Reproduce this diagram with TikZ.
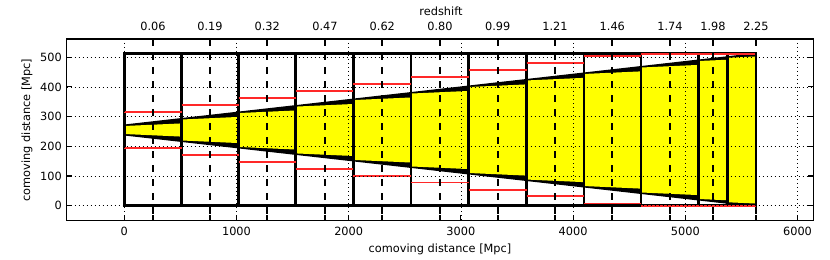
\documentclass[tikz,border=0pt]{standalone}
\usepackage{fontspec}
\setmainfont{DejaVu Sans}
\definecolor{mplred}{RGB}{255,40,40}
\definecolor{mplyellow}{RGB}{255,255,0}
\begin{document}
\begin{tikzpicture}[x=0.75pt,y=-0.75pt,
  font=\fontsize{8.5}{10}\selectfont,
  gridline/.style={black, line width=0.6pt, dash pattern=on 0.8pt off 2.2pt},
  zline/.style={black, line width=1.5pt, dash pattern=on 5.5pt off 5pt},
  binbox/.style={black, line width=2pt},
  redline/.style={mplred, line width=1.4pt},
  conefill/.style={fill=black},
  yfill/.style={fill=mplyellow},
  tickmark/.style={black, line width=0.8pt},
  frame/.style={black, line width=1pt}]
\useasboundingbox (0,0) rectangle (830,260);
\fill[white] (0,0) rectangle (830,260);

% light-cone segments per bin
\foreach \xl/\xr in {124.3/181.7,181.7/238.7,238.7/295.7,295.7/353.3,353.3/411,411/468.7,468.7/526.7,526.7/584,584/641,641/698.3,698.3/727.3,727.3/756}{
  \pgfmathsetmacro{\hl}{5+0.11319*(\xl-124.3)}
  \pgfmathsetmacro{\hr}{5+0.11319*(\xr-124.3)}
  \pgfmathsetmacro{\hy}{\hl+0.4*(\hr-\hl)}
  \fill[conefill] (\xl,{130-\hl-0.5}) -- (\xr,{130-\hr-0.5}) -- (\xr,{130+\hr+0.5}) -- (\xl,{130+\hl+0.5}) -- cycle;
  \fill[yfill] (\xl,{130-\hl+1.0}) -- (\xr,{130-\hy+1.0}) -- (\xr,{130+\hy-1.0}) -- (\xl,{130+\hl-1.0}) -- cycle;
}

% bin boxes
\foreach \xl/\xr in {124.3/181.7,181.7/238.7,238.7/295.7,295.7/353.3,353.3/411,411/468.7,468.7/526.7,526.7/584,584/641,641/698.3,698.3/727.3,727.3/756}{
  \draw[binbox] (\xl,53.5) rectangle (\xr,205.7);
}

% red lines
\foreach \xl/\xr/\ru/\rl in {124.3/181.7/111.7/148.3,181.7/238.7/105/155,238.7/295.7/97.7/162.3,295.7/353.3/90.7/169,353.3/411/83.7/176,411/468.7/77.3/182.5,468.7/526.7/70.3/189.7,526.7/584/63.3/196.3,584/641/55.7/203.5,641/698.3/54/205.7,698.3/727.3/54/205.7,727.3/756/54/205.7}{
  \draw[redline] (\xl,\ru) -- (\xr,\ru);
  \draw[redline] (\xl,\rl) -- (\xr,\rl);
}

% dotted grid
\foreach \x in {124.3,236.5,348.7,460.9,573.1,685.3,797.5}{
  \draw[gridline] (\x,39) -- (\x,220.7);
}
\foreach \y in {205.7,176,146.3,116.6,86.9,57.2}{
  \draw[gridline] (66.7,\y) -- (813.3,\y);
}

% dashed redshift lines and labels
\foreach \x/\z [count=\i] in {153/0.06,210/0.19,267.3/0.32,325/0.47,382.3/0.62,440/0.80,497.7/0.99,555/1.21,612.3/1.46,670/1.74,713/1.98,756/2.25}{
  \draw[zline] (\x,39) -- (\x,220.7);
  \draw[tickmark, line width=1.5pt] (\x,39) -- (\x,45);
  \draw[tickmark, line width=1.5pt] (\x,220.7) -- (\x,214.7);
  \node (z\i) at (\x,26.7) {\z};
}

% axes frame
\draw[frame] (66.7,39) rectangle (813.3,220.7);

% bottom ticks and labels
\foreach \x/\lab [count=\i] in {124.3/0,236.5/1000,348.7/2000,460.9/3000,573.1/4000,685.3/5000,797.5/6000}{
  \draw[tickmark] (\x,220.7) -- (\x,215.2);
  \node (xt\i) at (\x,231.7) {\lab};
}

% left/right ticks and labels
\foreach \y/\lab [count=\i] in {205.7/0,176/100,146.3/200,116.6/300,86.9/400,57.2/500}{
  \draw[tickmark] (66.7,\y) -- (72.2,\y);
  \draw[tickmark] (813.3,\y) -- (807.8,\y);
  \node[anchor=east, inner sep=0pt] (yt\i) at (62,\y) {\lab};
}

% axis titles
\node (xlabel) at (440,249.3) {comoving distance [Mpc]};
\node[rotate=90] (ylabel) at (27,130) {comoving distance [Mpc]};
\node (zlabel) at (441,11) {redshift};
\end{tikzpicture}
\end{document}
